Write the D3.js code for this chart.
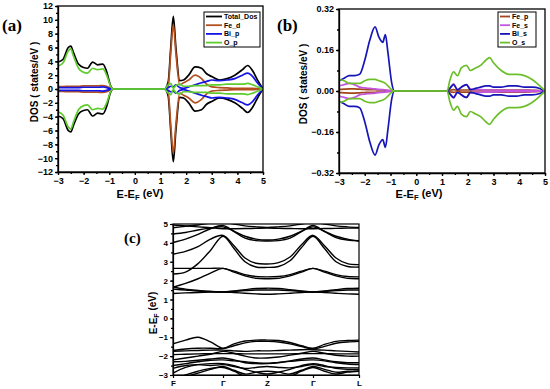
<!DOCTYPE html>
<html>
<head>
<meta charset="utf-8">
<script src="https://cdn.jsdelivr.net/npm/d3@7"></script>
<style>
  body { margin: 0; background: #fff; }
  svg { display: block; font-family: Arial, "Liberation Sans", sans-serif; }
  .tick text { font-weight: bold; }
</style>
</head>
<body>
<script>
const energyA = [-3.0, -2.8, -2.6, -2.5, -2.4, -2.2, -2.0, -1.85, -1.65, -1.45, -1.25, -1.1, -0.95, -0.85,
  1.15, 1.3, 1.4, 1.5, 1.6, 1.75, 1.9, 2.1, 2.35, 2.6, 2.8, 3.0, 3.3, 3.6, 3.9, 4.2, 4.4, 4.6, 4.8, 5.0];
const totalDos = [3.9, 4.3, 6.0, 6.2, 5.3, 3.6, 3.1, 3.0, 3.9, 3.5, 3.6, 2.5, 0.5, 0,
  0, 1.0, 6.0, 10.5, 6.0, 1.2, 1.3, 2.0, 3.2, 3.0, 2.2, 1.8, 1.3, 1.5, 2.0, 2.8, 3.4, 2.6, 1.2, 0];
const feD = [0.35, 0.35, 0.4, 0.4, 0.4, 0.4, 0.45, 0.45, 0.45, 0.45, 0.5, 0.4, 0.1, 0,
  0, 0.5, 5.2, 9.3, 5.2, 0.6, 0.9, 1.3, 2.0, 1.5, 0.7, 0.3, 0.2, 0.15, 0.1, 0.1, 0.1, 0.1, 0.05, 0];
const biP = [0.2, 0.2, 0.2, 0.2, 0.2, 0.2, 0.25, 0.25, 0.25, 0.25, 0.3, 0.2, 0.05, 0,
  0, 0.2, 0.4, 0.3, 0.6, 0.2, 0.1, 0.3, 0.6, 0.9, 1.1, 1.3, 1.2, 1.3, 1.5, 2.0, 2.3, 1.8, 0.8, 0];
const oP = [3.3, 3.8, 5.5, 5.8, 4.8, 3.0, 2.4, 2.3, 3.0, 2.8, 2.9, 2.0, 0.4, 0,
  0, 0.6, 0.8, 0.1, 0.5, 0.7, 0.4, 0.4, 0.5, 0.5, 0.5, 0.6, 0.6, 0.7, 0.7, 0.7, 0.8, 0.6, 0.3, 0];

// panel (b)
const energyB = [-3.0, -2.8, -2.6, -2.4, -2.2, -2.0, -1.8, -1.6, -1.45, -1.3, -1.2, -1.1, -0.95, -0.85,
  1.2, 1.3, 1.45, 1.6, 1.75, 1.95, 2.1, 2.3, 2.5, 2.7, 2.85, 3.0, 3.3, 3.6, 3.9, 4.2, 4.5, 4.8, 5.0];
const feP = [0.006, 0.007, 0.008, 0.008, 0.007, 0.006, 0.005, 0.005, 0.004, 0.004, 0.003, 0.002, 0.001, 0,
  0, 0.003, 0.005, 0.003, 0.004, 0.004, 0.004, 0.004, 0.004, 0.004, 0.004, 0.004, 0.004, 0.004, 0.004, 0.004, 0.003, 0.002, 0];
const feS = [0.02, 0.025, 0.03, 0.025, 0.015, 0.012, 0.01, 0.008, 0.006, 0.005, 0.004, 0.003, 0.001, 0,
  0, 0.01, 0.028, 0.005, 0.015, 0.025, 0.008, 0.005, 0.005, 0.004, 0.004, 0.004, 0.003, 0.003, 0.003, 0.003, 0.002, 0.001, 0];
const biS = [0.04, 0.05, 0.06, 0.06, 0.065, 0.12, 0.2, 0.25, 0.21, 0.19, 0.22, 0.15, 0.03, 0,
  0, 0.01, 0.025, 0.005, 0.015, 0.025, 0.005, 0.01, 0.015, 0.02, 0.02, 0.015, 0.015, 0.02, 0.02, 0.015, 0.015, 0.01, 0];
const oS = [0.045, 0.04, 0.03, 0.03, 0.03, 0.04, 0.045, 0.045, 0.04, 0.035, 0.03, 0.02, 0.005, 0,
  0, 0.04, 0.075, 0.06, 0.09, 0.1, 0.08, 0.09, 0.1, 0.12, 0.13, 0.11, 0.08, 0.065, 0.065, 0.06, 0.045, 0.02, 0];

// panel (c): high symmetry points and band energies at 17 k samples
const kLabels = ['F', 'Γ', 'Z', 'Γ', 'L'];
const kPoints = [0, 1, 1.88, 2.8, 3.72];
const bands = [
  [1.65, 1.55, 1.48, 1.42, 1.4, 1.45, 1.52, 1.58, 1.6, 1.58, 1.52, 1.45, 1.4, 1.45, 1.52, 1.58, 1.6],
  [1.55, 1.5, 1.45, 1.42, 1.4, 1.43, 1.47, 1.5, 1.5, 1.5, 1.47, 1.43, 1.4, 1.43, 1.47, 1.5, 1.5],
  [1.32, 1.35, 1.37, 1.39, 1.4, 1.37, 1.33, 1.3, 1.28, 1.3, 1.33, 1.37, 1.4, 1.37, 1.33, 1.3, 1.28],
  [1.65, 1.85, 2.1, 2.4, 2.65, 2.45, 2.25, 2.12, 2.1, 2.12, 2.25, 2.45, 2.65, 2.45, 2.25, 2.12, 2.1],
  [2.65, 2.65, 2.65, 2.65, 2.65, 2.5, 2.32, 2.22, 2.2, 2.22, 2.32, 2.5, 2.65, 2.5, 2.32, 2.22, 2.2],
  [2.35, 2.45, 2.9, 3.6, 4.35, 3.7, 3.0, 2.72, 2.7, 2.75, 3.05, 3.75, 4.35, 3.7, 3.0, 2.75, 2.72],
  [3.4, 3.55, 3.8, 4.2, 4.4, 3.85, 3.2, 2.92, 2.88, 2.95, 3.25, 3.9, 4.4, 3.85, 3.2, 2.9, 2.85],
  [4.02, 4.2, 4.45, 4.75, 4.92, 4.6, 4.25, 4.12, 4.1, 4.12, 4.25, 4.6, 4.92, 4.6, 4.28, 4.15, 4.12],
  [4.47, 4.55, 4.68, 4.78, 4.85, 4.62, 4.35, 4.2, 4.15, 4.2, 4.35, 4.62, 4.85, 4.62, 4.35, 4.2, 4.08],
  [4.8, 4.88, 4.95, 5.05, 5.1, 5.0, 4.9, 4.85, 4.82, 4.85, 4.9, 5.0, 5.1, 5.0, 4.9, 4.85, 4.82],
  [4.95, 4.9, 4.85, 4.8, 4.75, 4.75, 4.76, 4.77, 4.78, 4.77, 4.76, 4.75, 4.75, 4.76, 4.77, 4.78, 4.78],
  [-1.35, -1.15, -1.0, -1.25, -1.58, -1.35, -1.2, -1.15, -1.15, -1.17, -1.28, -1.45, -1.58, -1.38, -1.22, -1.17, -1.15],
  [-1.7, -1.62, -1.58, -1.58, -1.6, -1.45, -1.3, -1.22, -1.22, -1.25, -1.35, -1.5, -1.62, -1.48, -1.32, -1.25, -1.22],
  [-1.75, -1.72, -1.7, -1.68, -1.68, -1.72, -1.75, -1.72, -1.72, -1.7, -1.68, -1.66, -1.66, -1.68, -1.72, -1.75, -1.78],
  [-1.92, -1.9, -1.88, -1.87, -1.87, -1.87, -1.88, -1.88, -1.88, -1.88, -1.88, -1.87, -1.87, -1.87, -1.88, -1.88, -1.88],
  [-2.2, -2.1, -2.0, -1.9, -1.75, -1.85, -2.0, -2.1, -2.1, -2.05, -1.95, -1.85, -1.75, -1.85, -1.95, -2.0, -2.0],
  [-2.3, -2.28, -2.22, -2.15, -2.1, -2.2, -2.35, -2.4, -2.4, -2.35, -2.25, -2.15, -2.1, -2.2, -2.3, -2.35, -2.35],
  [-2.5, -2.4, -2.3, -2.22, -2.2, -2.25, -2.3, -2.35, -2.38, -2.33, -2.28, -2.22, -2.2, -2.25, -2.35, -2.42, -2.45],
  [-2.65, -2.5, -2.45, -2.5, -2.45, -2.55, -2.65, -2.6, -2.55, -2.6, -2.62, -2.55, -2.45, -2.55, -2.6, -2.62, -2.62],
  [-2.9, -2.6, -2.45, -2.4, -2.4, -2.5, -2.7, -2.85, -2.95, -2.85, -2.7, -2.5, -2.4, -2.5, -2.65, -2.7, -2.7],
  [-3.2, -3.0, -2.8, -2.65, -2.6, -2.8, -3.1, -3.3, -3.3, -3.3, -3.1, -2.8, -2.6, -2.8, -2.95, -2.85, -2.8],
  [-3.3, -3.1, -2.9, -2.7, -2.55, -2.75, -2.95, -2.85, -2.8, -2.85, -2.95, -2.75, -2.55, -2.7, -2.85, -2.8, -2.78]
];

const seriesA = [
  {name: 'Total_Dos', values: totalDos, color: '#000000'},
  {name: 'Fe_d', values: feD, color: '#b3501f'},
  {name: 'Bi_p', values: biP, color: '#1414e6'},
  {name: 'O_p', values: oP, color: '#5fcc2e'}
];
const seriesB = [
  {name: 'Fe_p', values: feP, color: '#a3451a'},
  {name: 'Fe_s', values: feS, color: '#c455e0'},
  {name: 'Bi_s', values: biS, color: '#1616b8'},
  {name: 'O_s', values: oS, color: '#6cbf2a'}
];

const svg = d3.select('body').append('svg')
  .attr('width', 550)
  .attr('height', 389);

// title with subscript F
const eTitle = (sel) => {
  sel.append('tspan').text('E-E');
  sel.append('tspan').attr('font-size', '0.7em').attr('dy', '0.3em').text('F');
  sel.append('tspan').attr('dy', '-0.3em').text(' (eV)');
};

const dosPanel = (opt) => {
  const x = d3.scaleLinear().domain([-3, 5]).range([opt.left, opt.right]);
  const y = d3.scaleLinear().domain([-opt.ymax, opt.ymax]).range([opt.bottom, opt.top]);
  const g = svg.append('g');

  const clipId = 'clip' + opt.key;
  g.append('clipPath').attr('id', clipId)
    .append('rect')
    .attr('x', opt.left).attr('y', opt.top)
    .attr('width', opt.right - opt.left).attr('height', opt.bottom - opt.top);

  const plot = g.append('g').attr('clip-path', `url(#${clipId})`);

  // spin up is positive, spin down mirrored below zero
  opt.series.forEach((s) => {
    [1, -1].forEach((sign) => {
      const line = d3.line()
        .x((d, i) => x(opt.energy[i]))
        .y((d) => y(sign * d))
        .curve(d3.curveMonotoneX);
      plot.append('path')
        .attr('d', line(s.values))
        .attr('fill', 'none')
        .attr('stroke', s.color)
        .attr('stroke-width', 1.7);
    });
  });

  // axes with minor ticks
  g.append('g')
    .attr('transform', `translate(0,${opt.bottom})`)
    .call(d3.axisBottom(x).tickValues(d3.range(-3, 5.01, 0.5)).tickSize(2).tickFormat(''))
    .call((a) => a.select('.domain').remove());
  g.append('g')
    .attr('transform', `translate(0,${opt.bottom})`)
    .call(d3.axisBottom(x).ticks(8).tickSize(3).tickSizeOuter(0).tickPadding(3))
    .attr('font-size', 9);
  g.append('g')
    .attr('transform', `translate(${opt.left},0)`)
    .call(d3.axisLeft(y).tickValues(opt.minor).tickSize(2).tickFormat(''))
    .call((a) => a.select('.domain').remove());
  g.append('g')
    .attr('transform', `translate(${opt.left},0)`)
    .call(d3.axisLeft(y).tickValues(opt.major).tickSize(3).tickSizeOuter(0).tickPadding(2).tickFormat(opt.fmt))
    .attr('font-size', 9);
  g.selectAll('.domain, .tick line').attr('stroke', '#000').attr('stroke-width', 1.3);

  g.append('rect')
    .attr('x', opt.left).attr('y', opt.top)
    .attr('width', opt.right - opt.left).attr('height', opt.bottom - opt.top)
    .attr('fill', 'none').attr('stroke', '#000').attr('stroke-width', 1.3);

  // legend
  const lg = g.append('g').attr('transform', `translate(${opt.legend[0]},${opt.legend[1]})`);
  lg.append('rect')
    .attr('width', opt.legend[2]).attr('height', 35)
    .attr('fill', '#fff').attr('stroke', '#000').attr('stroke-width', 1);
  opt.series.forEach((s, i) => {
    const ly = 4.5 + i * 8.7;
    lg.append('line')
      .attr('x1', 2).attr('x2', opt.legend[3])
      .attr('y1', ly).attr('y2', ly)
      .attr('stroke', s.color).attr('stroke-width', 1.8);
    lg.append('text')
      .attr('x', opt.legend[3] + 2).attr('y', ly + 2.5)
      .attr('font-size', 7).attr('font-weight', 'bold')
      .text(s.name);
  });

  // titles
  g.append('text')
    .attr('transform', `translate(${opt.ytitle[0]},${opt.ytitle[1]}) rotate(-90)`)
    .attr('text-anchor', 'middle')
    .attr('font-size', 10).attr('font-weight', 'bold')
    .text('DOS ( states/eV )');
  g.append('text')
    .attr('x', opt.xtitle).attr('y', 198)
    .attr('text-anchor', 'middle')
    .attr('font-size', 11).attr('font-weight', 'bold')
    .call(eTitle);
  g.append('text')
    .attr('x', opt.label[0]).attr('y', opt.label[1])
    .attr('font-family', '"Liberation Serif", serif')
    .attr('font-size', 17).attr('font-weight', 'bold')
    .text(opt.id);
};

dosPanel({
  id: '(a)', key: 'a', series: seriesA, energy: energyA, ymax: 12,
  left: 58, right: 263, top: 6, bottom: 172,
  major: d3.range(-12, 12.1, 2), minor: d3.range(-12, 12.1, 1), fmt: d3.format('d'),
  legend: [204, 12, 56, 18], ytitle: [38, 82], xtitle: 140, label: [2, 31]
});
dosPanel({
  id: '(b)', key: 'b', series: seriesB, energy: energyB, ymax: 0.32,
  left: 339, right: 545, top: 9, bottom: 173,
  major: [-0.32, -0.16, 0, 0.16, 0.32], minor: d3.range(-0.32, 0.33, 0.08), fmt: d3.format('.2f'),
  legend: [498, 12, 38, 12], ytitle: [307, 84], xtitle: 419, label: [277, 31]
});

// band structure panel
const bx = d3.scaleLinear().domain([0, 3.72]).range([173, 359]);
const by = d3.scaleLinear().domain([-3, 5]).range([375, 224]);
const gc = svg.append('g');

gc.append('clipPath').attr('id', 'clipc')
  .append('rect').attr('x', 173).attr('y', 224).attr('width', 186).attr('height', 151);

// k coordinate of each sample, 4 per segment
const kAt = (i) => {
  const seg = Math.min(Math.floor(i / 4), 3);
  const t = (i - seg * 4) / 4;
  return kPoints[seg] + t * (kPoints[seg + 1] - kPoints[seg]);
};
const bandLine = d3.line()
  .x((d, i) => bx(kAt(i)))
  .y((d) => by(d))
  .curve(d3.curveCatmullRom.alpha(0.5));

gc.append('g').attr('clip-path', 'url(#clipc)')
  .selectAll('path')
  .data(bands)
  .enter().append('path')
  .attr('d', bandLine)
  .attr('fill', 'none')
  .attr('stroke', '#000')
  .attr('stroke-width', 1.4);

gc.append('g')
  .attr('transform', 'translate(173,0)')
  .call(d3.axisLeft(by).tickValues(d3.range(-3, 5.01, 0.5)).tickSize(2).tickFormat(''))
  .call((a) => a.select('.domain').remove());
gc.append('g')
  .attr('transform', 'translate(173,0)')
  .call(d3.axisLeft(by).ticks(8).tickSize(3).tickSizeOuter(0).tickPadding(2))
  .attr('font-size', 8);
gc.append('g')
  .attr('transform', 'translate(0,375)')
  .call(d3.axisBottom(bx).tickValues(kPoints).tickSize(3).tickSizeOuter(0).tickPadding(2)
    .tickFormat((d, i) => kLabels[i]))
  .attr('font-size', 8);
gc.selectAll('.domain, .tick line').attr('stroke', '#000').attr('stroke-width', 1.2);
gc.append('rect')
  .attr('x', 173).attr('y', 224).attr('width', 186).attr('height', 151)
  .attr('fill', 'none').attr('stroke', '#000').attr('stroke-width', 1.2);

gc.append('text')
  .attr('transform', 'translate(157,313) rotate(-90)')
  .attr('text-anchor', 'middle')
  .attr('font-size', 10).attr('font-weight', 'bold')
  .call(eTitle);
gc.append('text')
  .attr('x', 124).attr('y', 243)
  .attr('font-family', '"Liberation Serif", serif')
  .attr('font-size', 15).attr('font-weight', 'bold')
  .text('(c)');
</script>
</body>
</html>
